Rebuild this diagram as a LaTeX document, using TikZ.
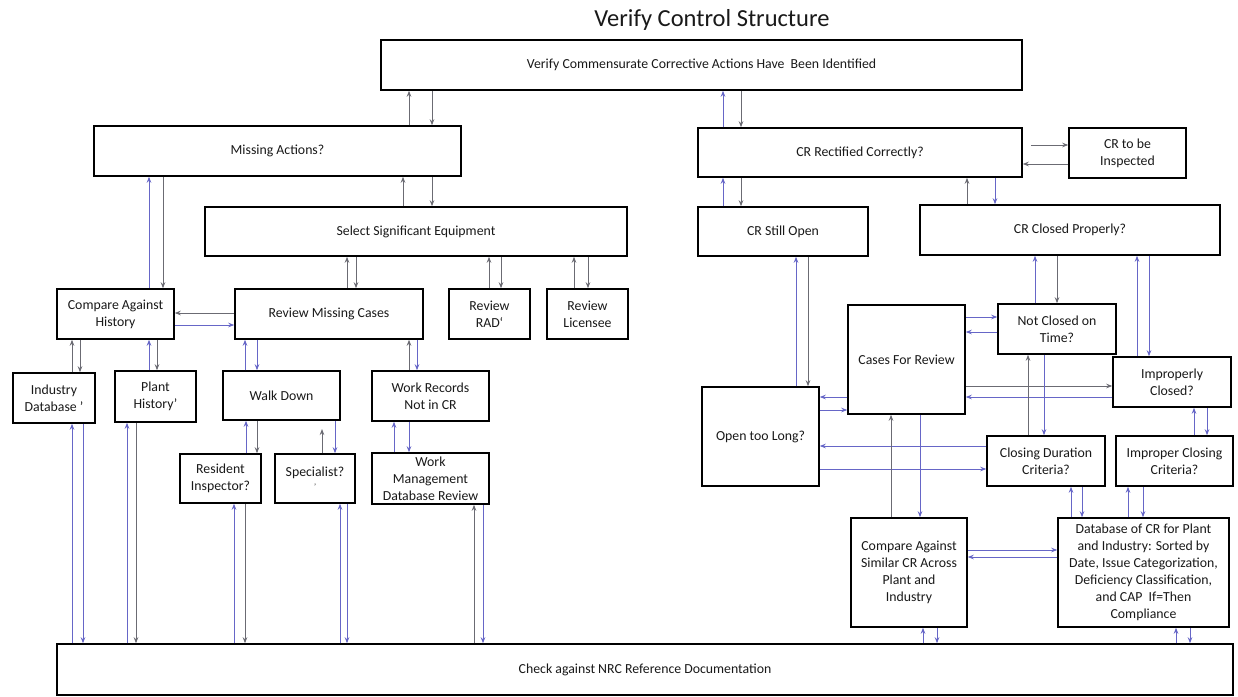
\documentclass[tikz,border=0pt]{standalone}
\usepackage{fontspec}
\setmainfont{Carlito}
\usetikzlibrary{arrows.meta}
\definecolor{linkblue}{rgb}{0.40,0.40,0.78}
\definecolor{linkgray}{rgb}{0.42,0.42,0.45}
\tikzset{
  box/.style={draw=black, line width=1.5pt, rectangle, align=center,
    inner sep=2pt, font=\fontsize{13.8}{17}\selectfont, text=black!90},
  lnk/.style={line width=0.8pt, -{Stealth[length=6pt,width=4.5pt]}},
  ga/.style={lnk, draw=linkgray},
  ba/.style={lnk, draw=linkblue},
}
% \bx{name}{x1}{y1}{x2}{y2}{label}: box given by its corners (pixel units)
\newcommand{\bx}[6]{%
  \pgfmathsetmacro{\bxcx}{(#2+#4)/2}%
  \pgfmathsetmacro{\bxcy}{(#3+#5)/2}%
  \pgfmathsetmacro{\bxw}{#4-#2}%
  \pgfmathsetmacro{\bxh}{#5-#3}%
  \node[box, minimum width=\bxw pt, minimum height=\bxh pt] (#1) at (\bxcx,\bxcy) {#6};}
\begin{document}
\begin{tikzpicture}[x=1pt,y=-1pt]
\useasboundingbox[fill=white] (0,0) rectangle (1238,696);

\node[font=\fontsize{24.5}{28}\selectfont, text=black!90] (title) at (712,20) {Verify Control Structure};

% upper levels
\bx{top}{381}{40}{1022}{90}{Verify Commensurate Corrective Actions Have\ \ Been Identified}
\bx{ma}{94}{126}{461}{176}{Missing Actions?}
\bx{sel}{205}{207}{627}{256}{Select Significant Equipment}
\bx{crr}{698}{128}{1022}{177}{CR Rectified Correctly?}
\bx{cri}{1069}{128}{1186}{178}{CR to be\\Inspected}
\bx{cso}{698}{207}{868}{256}{CR Still Open}
\bx{crc}{920}{205}{1220}{255}{CR Closed Properly?}

% left branch
\bx{cah}{57}{289}{174}{339}{Compare Against\\History}
\bx{rmc}{235}{289}{423}{339}{Review Missing Cases}
\bx{rad}{449}{289}{530}{339}{Review\\RAD\symbol{96}}
\bx{lic}{547}{289}{628}{339}{Review\\Licensee}
\bx{idb}{13}{373}{95}{423}{Industry\\Database '}
\bx{ph}{115}{371}{196}{422}{Plant\\History'}
\bx{wd}{223}{371}{340}{420}{Walk Down}
\bx{wr}{372}{371}{489}{421}{Work Records\\Not in CR}
\bx{ri}{180}{454}{261}{503}{Resident\\Inspector?}
\bx{spec}{275}{454}{355}{503}{Specialist?\\[-4pt]{\fontsize{8}{8}\selectfont '}}
\bx{wm}{372}{453}{489}{504}{Work\\Management\\Database Review}

% right branch
\bx{cfr}{848}{305}{965}{414}{Cases For Review}
\bx{nct}{998}{304}{1116}{354}{Not Closed on\\Time?}
\bx{ic}{1113}{357}{1231}{407}{Improperly\\Closed?}
\bx{otl}{702}{387}{819}{486}{Open too Long?}
\bx{cdc}{987}{436}{1105}{486}{Closing Duration\\Criteria?}
\bx{icc}{1116}{436}{1233}{486}{Improper Closing\\Criteria?}
\bx{cas}{851}{518}{967}{627}{Compare Against\\Similar CR Across\\Plant and\\Industry}
\bx{db}{1058}{518}{1229}{627}{Database of CR for Plant\\and Industry: Sorted by\\Date, Issue Categorization,\\Deficiency Classification,\\and CAP\ \ If=Then\\Compliance}

\bx{nrc}{57}{644}{1233}{695}{Check against NRC Reference Documentation}

\coordinate (specup) at (322,429);

% ---- connectors, left side ----
\draw[ga] (ma.north -| 409,0) -- (top.south -| 409,0);
\draw[ga] (top.south -| 432,0) -- (ma.north -| 432,0);
\draw[ba] (cah.north -| 149,0) -- (ma.south -| 149,0);
\draw[ga] (ma.south -| 163,0) -- (cah.north -| 163,0);
\draw[ga] (sel.north -| 403,0) -- (ma.south -| 403,0);
\draw[ga] (ma.south -| 432,0) -- (sel.north -| 432,0);
\draw[ga] (rmc.north -| 347,0) -- (sel.south -| 347,0);
\draw[ga] (sel.south -| 356,0) -- (rmc.north -| 356,0);
\draw[ga] (rad.north -| 489,0) -- (sel.south -| 489,0);
\draw[ga] (sel.south -| 501,0) -- (rad.north -| 501,0);
\draw[ga] (lic.north -| 574,0) -- (sel.south -| 574,0);
\draw[ga] (sel.south -| 588,0) -- (lic.north -| 588,0);
\draw[ga] (rmc.west |- 0,313) -- (cah.east |- 0,313);
\draw[ba] (cah.east |- 0,325) -- (rmc.west |- 0,325);
\draw[ga] (idb.north -| 72,0) -- (cah.south -| 72,0);
\draw[ga] (cah.south -| 80,0) -- (idb.north -| 80,0);
\draw[ba] (ph.north -| 149,0) -- (cah.south -| 149,0);
\draw[ga] (cah.south -| 157,0) -- (ph.north -| 157,0);
\draw[ba] (wd.north -| 245,0) -- (rmc.south -| 245,0);
\draw[ba] (rmc.south -| 257,0) -- (wd.north -| 257,0);
\draw[ga] (wr.north -| 409,0) -- (rmc.south -| 409,0);
\draw[ba] (rmc.south -| 417,0) -- (wr.north -| 417,0);
\draw[ba] (ri.north -| 246,0) -- (wd.south -| 246,0);
\draw[ga] (wd.south -| 257,0) -- (ri.north -| 257,0);
\draw[ga] (spec.north -| 322,0) -- (specup);
\draw[ba] (wd.south -| 335,0) -- (spec.north -| 335,0);
\draw[ba] (wm.north -| 394,0) -- (wr.south -| 394,0);
\draw[ba] (wr.south -| 409,0) -- (wm.north -| 409,0);
\draw[ba] (nrc.north -| 72,0) -- (idb.south -| 72,0);
\draw[ba] (idb.south -| 83,0) -- (nrc.north -| 83,0);
\draw[ba] (nrc.north -| 127,0) -- (ph.south -| 127,0);
\draw[ga] (ph.south -| 136,0) -- (nrc.north -| 136,0);
\draw[ba] (nrc.north -| 234,0) -- (ri.south -| 234,0);
\draw[ga] (ri.south -| 245,0) -- (nrc.north -| 245,0);
\draw[ba] (nrc.north -| 340,0) -- (spec.south -| 340,0);
\draw[ba] (spec.south -| 347,0) -- (nrc.north -| 347,0);
\draw[ga] (nrc.north -| 474,0) -- (wm.south -| 474,0);
\draw[ba] (wm.south -| 483,0) -- (nrc.north -| 483,0);

% ---- connectors, right side ----
\draw[ba] (crr.north -| 723,0) -- (top.south -| 723,0);
\draw[ga] (top.south -| 741,0) -- (crr.north -| 741,0);
\draw[ga, shorten <=8pt] (crr.east |- 0,145) -- (cri.west |- 0,145);
\draw[ga] (cri.west |- 0,164) -- (crr.east |- 0,164);
\draw[ba] (cso.north -| 723,0) -- (crr.south -| 723,0);
\draw[ga] (crr.south -| 741,0) -- (cso.north -| 741,0);
\draw[ga] (crc.north -| 967,0) -- (crr.south -| 967,0);
\draw[ba] (crr.south -| 995,0) -- (crc.north -| 995,0);
\draw[ba] (otl.north -| 796,0) -- (cso.south -| 796,0);
\draw[ga] (cso.south -| 808,0) -- (otl.north -| 808,0);
\draw[ba] (nct.north -| 1035,0) -- (crc.south -| 1035,0);
\draw[ga] (crc.south -| 1057,0) -- (nct.north -| 1057,0);
\draw[ba] (ic.north -| 1137,0) -- (crc.south -| 1137,0);
\draw[ba] (crc.south -| 1149,0) -- (ic.north -| 1149,0);
\draw[ba] (cfr.east |- 0,317) -- (nct.west |- 0,317);
\draw[ba] (nct.west |- 0,332) -- (cfr.east |- 0,332);
\draw[ga] (cfr.east |- 0,386) -- (ic.west |- 0,386);
\draw[ba] (ic.west |- 0,397) -- (cfr.east |- 0,397);
\draw[ba] (cfr.west |- 0,397) -- (otl.east |- 0,397);
\draw[ba] (otl.east |- 0,410) -- (cfr.west |- 0,410);
\draw[ba] (cdc.west |- 0,446) -- (otl.east |- 0,446);
\draw[ba] (otl.east |- 0,469) -- (cdc.west |- 0,469);
\draw[ga] (cdc.north -| 1028,0) -- (nct.south -| 1028,0);
\draw[ba] (nct.south -| 1044,0) -- (cdc.north -| 1044,0);
\draw[ba] (icc.north -| 1194,0) -- (ic.south -| 1194,0);
\draw[ba] (ic.south -| 1207,0) -- (icc.north -| 1207,0);
\draw[ga] (cas.north -| 891,0) -- (cfr.south -| 891,0);
\draw[ba] (cfr.south -| 920,0) -- (cas.north -| 920,0);
\draw[ba] (cas.east |- 0,550) -- (db.west |- 0,550);
\draw[ba] (db.west |- 0,557) -- (cas.east |- 0,557);
\draw[ba] (db.north -| 1071,0) -- (cdc.south -| 1071,0);
\draw[ba] (cdc.south -| 1082,0) -- (db.north -| 1082,0);
\draw[ba] (db.north -| 1128,0) -- (icc.south -| 1128,0);
\draw[ba] (icc.south -| 1143,0) -- (db.north -| 1143,0);
\draw[ba] (nrc.north -| 923,0) -- (cas.south -| 923,0);
\draw[ba] (cas.south -| 937,0) -- (nrc.north -| 937,0);
\draw[ba] (nrc.north -| 1176,0) -- (db.south -| 1176,0);
\draw[ba] (db.south -| 1190,0) -- (nrc.north -| 1190,0);
\end{tikzpicture}
\end{document}
